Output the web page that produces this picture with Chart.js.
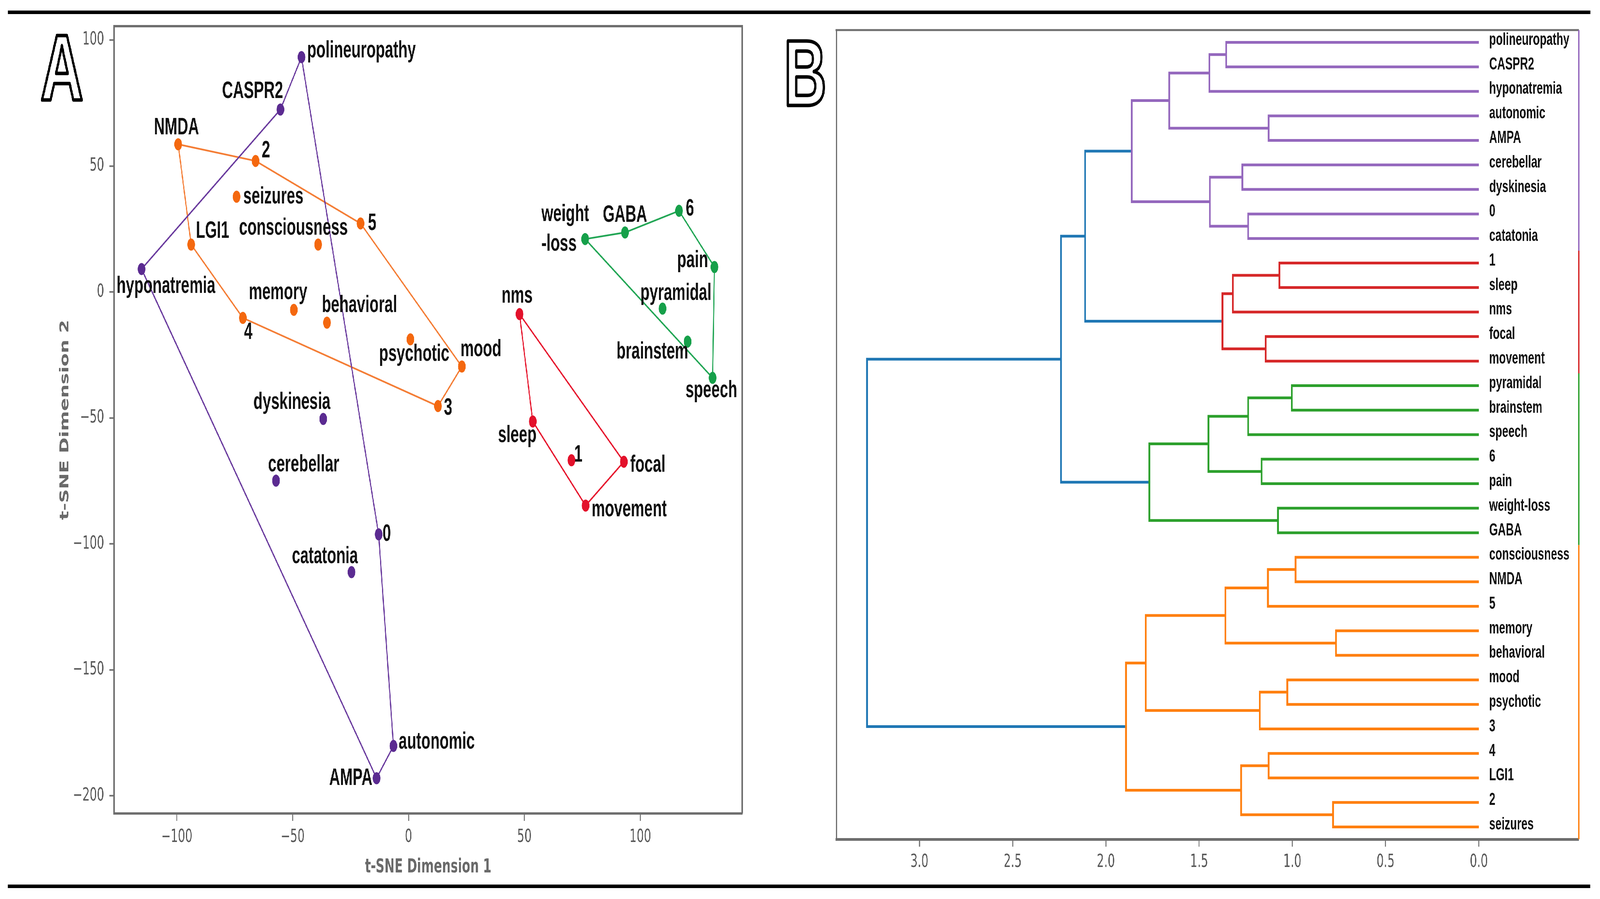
<!DOCTYPE html>
<html><head><meta charset="utf-8">
<script src="https://cdn.jsdelivr.net/npm/chart.js@4.4.1/dist/chart.umd.min.js"></script>
<style>
html,body{margin:0;padding:0;background:#fff;overflow:hidden;}
#wrap{position:absolute;left:0;top:0;width:6486px;height:2302px;transform-origin:0 0;}
canvas{position:absolute;top:0;}
#cA{left:0;width:3100px;height:2302px;}
#cB{left:3150px;width:3336px;height:2302px;}
.rule{position:absolute;left:32px;width:6415px;height:9px;background:#000;}
</style></head><body>
<div id="wrap">
<div class="rule" style="top:27px"></div>
<canvas id="cA" width="3100" height="2302"></canvas>
<canvas id="cB" width="3336" height="2302"></canvas>
<div class="rule" style="top:2265px"></div>
</div>
<script>
// ---------------- DATA (panel A: t-SNE) ----------------
const purpleLabels = ['polineuropathy','CASPR2','hyponatremia','dyskinesia','cerebellar','0','catatonia','autonomic','AMPA'];
const purpleX = [-46.2,-55.3,-115.2,-36.8,-57.2,-12.9,-24.6,-6.5,-13.8];
const purpleY = [93.2,72.4,9.1,-50.4,-74.9,-96.2,-111.2,-180.2,-193.0];
const purpleHull = ['polineuropathy','0','autonomic','AMPA','hyponatremia','CASPR2'];

const orangeLabels = ['NMDA','2','seizures','5','LGI1','consciousness','memory','4','behavioral','psychotic','3','mood'];
const orangeX = [-99.4,-66.0,-74.2,-20.7,-93.8,-39.0,-49.5,-71.5,-35.2,0.8,12.7,23.0];
const orangeY = [58.6,52.0,37.8,27.2,18.8,18.8,-7.1,-10.3,-12.2,-18.8,-45.3,-29.6];
const orangeHull = ['NMDA','2','5','mood','3','4','LGI1'];

const greenLabels = ['weight-loss','GABA','6','pain','pyramidal','brainstem','speech'];
const greenX = [76.2,93.4,116.7,132.0,109.6,120.4,131.2];
const greenY = [21.0,23.6,32.2,9.9,-6.6,-19.7,-34.1];
const greenHull = ['weight-loss','GABA','6','pain','speech'];

const redLabels = ['nms','sleep','1','focal','movement'];
const redX = [47.9,53.6,70.3,92.9,76.4];
const redY = [-8.8,-51.4,-66.8,-67.4,-84.8];
const redHull = ['nms','focal','movement','sleep'];

const tickXA = [-100,-50,0,50,100];
const tickYA = [-200,-150,-100,-50,0,50,100];

// ---------------- DATA (panel B: dendrogram) ----------------
const dendroLeaves = ['polineuropathy','CASPR2','hyponatremia','autonomic','AMPA','cerebellar','dyskinesia','0','catatonia',
  '1','sleep','nms','focal','movement',
  'pyramidal','brainstem','speech','6','pain','weight-loss','GABA',
  'consciousness','NMDA','5','memory','behavioral','mood','psychotic','3','4','LGI1','2','seizures'];
// [childA, childB, height, group]; children 0..32 are leaves, 33+ are earlier links
const dendroLinks = [
  [0,1,1.355,'purple'],[33,2,1.445,'purple'],[3,4,1.127,'purple'],[34,35,1.660,'purple'],
  [5,6,1.268,'purple'],[7,8,1.237,'purple'],[37,38,1.442,'purple'],[36,39,1.861,'purple'],
  [9,10,1.070,'red'],[41,11,1.319,'red'],[12,13,1.143,'red'],[42,43,1.375,'red'],
  [40,44,2.112,'blue'],
  [14,15,1.003,'green'],[46,16,1.237,'green'],[17,18,1.165,'green'],[47,48,1.450,'green'],
  [19,20,1.077,'green'],[49,50,1.767,'green'],
  [45,51,2.241,'blue'],
  [21,22,0.983,'orange'],[53,23,1.131,'orange'],[24,25,0.766,'orange'],[54,55,1.359,'orange'],
  [26,27,1.027,'orange'],[57,28,1.175,'orange'],[56,58,1.786,'orange'],
  [29,30,1.127,'orange'],[31,32,0.782,'orange'],[60,61,1.275,'orange'],[59,62,1.892,'orange'],
  [52,63,3.281,'blue']
];
const dendroGroups = [['purple',9],['red',5],['green',7],['orange',12]];
const tickXB = [0,0.5,1.0,1.5,2.0,2.5,3.0];

// ---------------- STYLE ----------------
const pointColors = {purple:'#5B2B91', orange:'#F4680F', green:'#16A04A', red:'#E3112B'};
const hullColors  = {purple:'#6A3B9E', orange:'#F47D35', green:'#22A655', red:'#E6172E'};
const dendroColors = {purple:'#9467bd', red:'#d62728', green:'#2ca02c', orange:'#ff7f0e', blue:'#1f77b4'};
const AXIS_GRAY = '#6e6e6e';
const TICK_COLOR = '#585858';
const TICK_FONT = {family:'"DejaVu Sans"', size:46};
const TITLE_FONT = {family:'"DejaVu Sans"', size:49, weight:'bold'};
const LABEL_FONT = 'bold 61px "Liberation Sans", Arial, sans-serif';
const LEAF_FONT = 'bold 45px "Liberation Sans", Arial, sans-serif';
// label placement relative to the point, in pixels: [align, dx, dy, optional text]
const labelLayoutA = {
  'polineuropathy':['left',23,-16], 'CASPR2':['right',11,-46], 'NMDA':['center',-7,-42],
  '2':['left',25,-26], 'seizures':['left',27,0], '5':['left',30,0], 'LGI1':['left',19,-34],
  'consciousness':['right',120,-42], 'hyponatremia':['left',-101,44], 'memory':['center',-64,-44],
  'behavioral':['left',-21,-44], '4':['left',5,37], 'psychotic':['left',-127,38],
  'dyskinesia':['right',29,-43], 'cerebellar':['left',-32,-41], '0':['left',16,0],
  'catatonia':['right',26,-40], 'autonomic':['left',21,-10], 'AMPA':['right',-17,0],
  'mood':['left',-6,-43], '3':['left',24,5], 'weight-loss':['left',-177,-63,'weight\n-loss'],
  'GABA':['center',0,-44], '6':['left',27,-5], 'pain':['right',-26,-17], 'pyramidal':['center',54,-39],
  'brainstem':['right',3,26], 'speech':['center',-5,33], 'nms':['center',-10,-46],
  'sleep':['center',-63,36], '1':['left',11,-13], 'focal':['left',26,9], 'movement':['left',24,11]
};

// fit the 6486x2302 figure to the actual window
(function(){
  const sx = (window.innerWidth || 6486) / 6486, sy = (window.innerHeight || 2302) / 2302;
  document.getElementById('wrap').style.transform = 'scale(' + sx + ',' + sy + ')';
})();

// ---------------- PANEL A ----------------
const clusters = [
  {key:'purple', labels:purpleLabels, x:purpleX, y:purpleY, hull:purpleHull},
  {key:'orange', labels:orangeLabels, x:orangeX, y:orangeY, hull:orangeHull},
  {key:'green',  labels:greenLabels,  x:greenX,  y:greenY,  hull:greenHull},
  {key:'red',    labels:redLabels,    x:redX,    y:redY,    hull:redHull}
];
const dsA = [];
clusters.forEach(c => {
  const pts = c.labels.map((l,i)=>({x:c.x[i], y:c.y[i]}));
  const hullPts = c.hull.concat([c.hull[0]]).map(n => pts[c.labels.indexOf(n)]);
  dsA.push({type:'line', data:hullPts, borderColor:hullColors[c.key], borderWidth:4.5, pointRadius:0,
            fill:false, tension:0, order:2, clip:false});
  dsA.push({type:'scatter', data:pts, backgroundColor:pointColors[c.key], borderWidth:0,
            pointRadius:15.5, pointHoverRadius:15.5, order:1});
});

const frameA = {
  id:'frameA',
  beforeDatasetsDraw(chart){
    const {ctx, chartArea:a} = chart;
    ctx.save(); ctx.strokeStyle = AXIS_GRAY; ctx.lineWidth = 6;
    ctx.beginPath(); ctx.moveTo(a.left-3, a.top); ctx.lineTo(a.right, a.top); ctx.lineTo(a.right, a.bottom); ctx.stroke();
    ctx.restore();
  },
  afterDraw(chart){
    const {ctx} = chart;
    ctx.save(); ctx.font = 'bold 240px "Liberation Sans", Arial, sans-serif';
    ctx.textAlign='center'; ctx.textBaseline='alphabetic'; ctx.lineJoin='round';
    ctx.fillStyle='#fff'; ctx.fillText('A', 251, 256);
    ctx.strokeStyle='#000'; ctx.lineWidth=9; ctx.strokeText('A', 251, 256);
    ctx.restore();
  }
};
const labelsA = {
  id:'labelsA',
  afterDatasetsDraw(chart){
    const {ctx, scales:{x,y}} = chart;
    ctx.save(); ctx.font = LABEL_FONT; ctx.fillStyle = '#111'; ctx.textBaseline='middle';
    clusters.forEach(c => c.labels.forEach((name,i) => {
      const px = x.getPixelForValue(c.x[i]), py = y.getPixelForValue(c.y[i]);
      const lay = labelLayoutA[name];
      ctx.textAlign = lay[0];
      (lay[3] || name).split('\n').forEach((ln,j) => ctx.fillText(ln, px+lay[1], py+lay[2]+j*76));
    }));
    ctx.restore();
  }
};
const minusFmt = v => (v < 0 ? '\u2212' + Math.abs(v) : String(v));

new Chart(document.getElementById('cA'), {
  data:{datasets:dsA},
  options:{
    responsive:false, animation:false, devicePixelRatio:1,
    layout:{padding:{top:67, right:91, bottom:0, left:0}},
    plugins:{legend:{display:false}, tooltip:{enabled:false}},
    events:[],
    scales:{
      x:{type:'linear', min:-127, max:144,
         afterFit:s=>{s.height=219;},
         afterBuildTicks:s=>{s.ticks = tickXA.map(v=>({value:v}));},
         ticks:{font:TICK_FONT, color:TICK_COLOR, padding:14, callback:minusFmt, maxRotation:0, autoSkip:false},
         grid:{drawOnChartArea:false, drawTicks:true, tickLength:19, tickWidth:4, tickColor:AXIS_GRAY},
         border:{display:true, color:AXIS_GRAY, width:6},
         title:{display:true, text:'t-SNE Dimension 1', font:TITLE_FONT, color:'#6a6a6a', padding:{top:0,bottom:51}}},
      y:{type:'linear', min:-207, max:105.5,
         afterFit:s=>{s.width=463;},
         afterBuildTicks:s=>{s.ticks = tickYA.map(v=>({value:v}));},
         ticks:{font:TICK_FONT, color:TICK_COLOR, padding:22, callback:minusFmt, autoSkip:false},
         grid:{drawOnChartArea:false, drawTicks:true, tickLength:19, tickWidth:4, tickColor:AXIS_GRAY},
         border:{display:true, color:AXIS_GRAY, width:6},
         title:{display:true, text:'t-SNE Dimension 2', font:TITLE_FONT, color:'#6a6a6a', padding:{top:235,bottom:0}}}
    }
  },
  plugins:[frameA, labelsA]
});

// ---------------- PANEL B ----------------
const nLeaves = dendroLeaves.length;
const nodePos = dendroLeaves.map((_,i)=>5+10*i);
const nodeH = dendroLeaves.map(()=>0);
const dsB = [];
dendroLinks.forEach(([a,b,h,g]) => {
  dsB.push({type:'line', data:[{x:nodeH[a],y:nodePos[a]},{x:h,y:nodePos[a]},{x:h,y:nodePos[b]},{x:nodeH[b],y:nodePos[b]}],
            borderColor:dendroColors[g], borderWidth:7, pointRadius:0, fill:false, tension:0,
            borderJoinStyle:'miter', borderCapStyle:'butt'});
  nodePos.push((nodePos[a]+nodePos[b])/2); nodeH.push(h);
});
const xMinB = -0.536, xMaxB = 3.446;
let start = 0;
dendroGroups.forEach(([g,cnt]) => {
  dsB.push({type:'line', data:[{x:xMinB,y:start*10},{x:xMinB,y:(start+cnt)*10}], borderColor:dendroColors[g],
            borderWidth:5, pointRadius:0, fill:false, clip:false, borderCapStyle:'butt'});
  start += cnt;
});

const frameB = {
  id:'frameB',
  beforeDatasetsDraw(chart){
    const {ctx, chartArea:a} = chart;
    ctx.save(); ctx.strokeStyle = AXIS_GRAY; ctx.lineWidth = 5;
    ctx.beginPath(); ctx.moveTo(a.left-3, a.top); ctx.lineTo(a.right, a.top); ctx.stroke();
    ctx.restore();
  },
  afterDraw(chart){
    const {ctx, scales:{x,y}} = chart;
    ctx.save(); ctx.font = 'bold 240px "Liberation Sans", Arial, sans-serif';
    ctx.textAlign='center'; ctx.textBaseline='alphabetic'; ctx.lineJoin='round';
    ctx.fillStyle='#fff'; ctx.fillText('B', 114, 270);
    ctx.strokeStyle='#000'; ctx.lineWidth=9; ctx.strokeText('B', 114, 270);
    ctx.font = LEAF_FONT; ctx.fillStyle='#111'; ctx.textAlign='left'; ctx.textBaseline='middle';
    const x0 = x.getPixelForValue(0) + 42;
    dendroLeaves.forEach((name,i) => ctx.fillText(name, x0, y.getPixelForValue(5+10*i) - 6));
    ctx.restore();
  }
};

new Chart(document.getElementById('cB'), {
  data:{datasets:dsB},
  options:{
    responsive:false, animation:false, devicePixelRatio:1,
    layout:{padding:{top:77, right:86, bottom:0, left:0}},
    plugins:{legend:{display:false}, tooltip:{enabled:false}},
    events:[],
    scales:{
      x:{type:'linear', reverse:true, min:xMinB, max:xMaxB,
         afterFit:s=>{s.height=153;},
         afterBuildTicks:s=>{s.ticks = tickXB.map(v=>({value:v}));},
         ticks:{font:TICK_FONT, color:TICK_COLOR, padding:12, callback:v=>v.toFixed(1), maxRotation:0, autoSkip:false},
         grid:{drawOnChartArea:false, drawTicks:true, tickLength:19, tickWidth:4, tickColor:AXIS_GRAY},
         border:{display:true, color:AXIS_GRAY, width:7}},
      y:{type:'linear', reverse:true, min:0, max:nLeaves*10,
         afterFit:s=>{s.width=240;},
         ticks:{display:false},
         grid:{display:false, drawTicks:false},
         border:{display:true, color:AXIS_GRAY, width:5}}
    }
  },
  plugins:[frameB]
});
</script>
</body></html>
